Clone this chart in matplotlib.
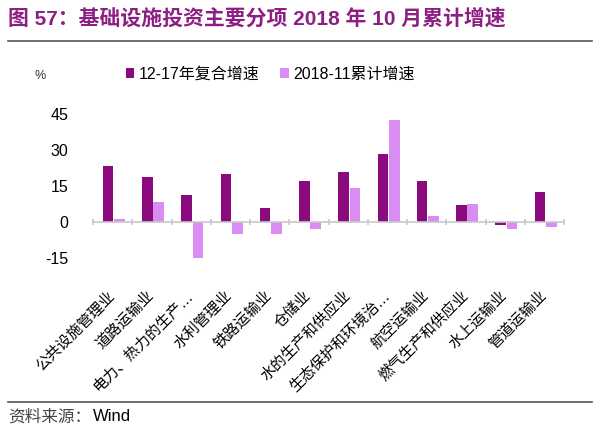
import matplotlib.pyplot as plt
import numpy as np

plt.rcParams['font.family'] = ['Liberation Sans', 'Noto Sans CJK SC', 'DejaVu Sans']
plt.rcParams['axes.unicode_minus'] = False

# data
categories = ['公共设施管理业', '道路运输业', '电力、热力的生产…', '水利管理业', '铁路运输业',
              '仓储业', '水的生产和供应业', '生态保护和环境治…', '航空运输业',
              '燃气生产和供应业', '水上运输业', '管道运输业']
cagr_12_17 = [23.3, 18.7, 11.4, 20.0, 5.8, 17.0, 20.9, 28.5, 17.0, 6.9, -1.2, 12.5]
cum_2018_11 = [1.1, 8.4, -15.0, -4.8, -5.0, -3.0, 14.3, 42.4, 2.6, 7.4, -3.0, -2.2]
yticks = [-15, 0, 15, 30, 45]

dark = '#8B0A7E'
light = '#D98CF2'

fig = plt.figure(figsize=(6, 4.33), dpi=100)
ax = fig.add_axes([0.155, 0.404, 0.785, 0.333])

x = np.arange(len(categories))
w = 0.27
ax.bar(x - w / 2 + 0.02, cagr_12_17, w, color=dark, label='12-17年复合增速')
ax.bar(x + w / 2 + 0.04, cum_2018_11, w, color=light, label='2018-11累计增速')

ax.set_xlim(-0.5, len(categories) - 0.5)
ax.set_ylim(-15, 45)
ax.set_yticks(yticks)

for s in ['left', 'right', 'bottom']:
    ax.spines[s].set_visible(False)
# category axis line sits at zero
ax.spines['top'].set_position(('data', 0))
ax.spines['top'].set_color('#C8C8C8')
ax.spines['top'].set_linewidth(1.2)
ax.set_xticks(x)
ax.set_xticks(np.arange(len(categories) + 1) - 0.5, minor=True)
ax.set_xticklabels(categories)
ax.tick_params(axis='x', which='major', bottom=False, top=False, labelsize=10.8, pad=22)
ax.tick_params(axis='x', which='minor', bottom=False, top=True, direction='inout',
               length=5, color='#C8C8C8', width=1.2)
ax.tick_params(axis='y', left=False, labelsize=11.5, pad=14)
plt.setp(ax.get_xticklabels(), rotation=45, ha='right', va='center', rotation_mode='anchor')

fig.legend(loc='center', bbox_to_anchor=(0.45, 0.829), ncol=2, frameon=False,
           fontsize=11.5, handlelength=0.55, handleheight=0.55, handletextpad=0.25,
           columnspacing=1.3)
fig.text(0.067, 0.825, '%', fontsize=9, color='#333333', ha='center', va='center')

fig.text(0.013, 0.958, '图 57：基础设施投资主要分项 2018 年 10 月累计增速', fontsize=15,
         fontweight='bold', color='#8E1F82', ha='left', va='center')
fig.add_artist(plt.Line2D([0.013, 0.987], [0.905, 0.905], color='#555555', lw=1.2))
fig.add_artist(plt.Line2D([0.013, 0.987], [0.072, 0.072], color='#555555', lw=1.2))
fig.text(0.013, 0.037, '资料来源：', fontsize=12, color='#444444', ha='left', va='center')
fig.text(0.155, 0.037, 'Wind', fontsize=12, color='black', ha='left', va='center')

fig.savefig('out.png', dpi=100)
